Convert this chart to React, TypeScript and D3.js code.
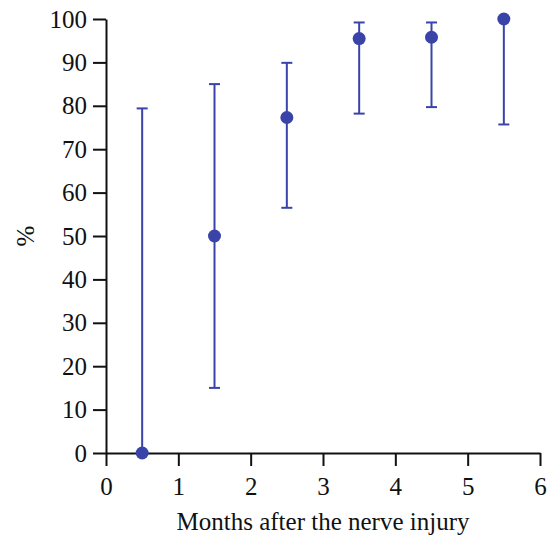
import React, { useEffect, useRef } from 'react';
import * as d3 from 'd3';

// data
const months = [0.5, 1.5, 2.5, 3.5, 4.5, 5.5];
const percent = [0, 50, 77.3, 95.5, 95.8, 100];
const lowerCI = [0, 15, 56.5, 78.2, 79.7, 75.7];
const upperCI = [79.4, 85, 89.9, 99.2, 99.2, 100];
const xTicks = [0, 1, 2, 3, 4, 5, 6];
const yTicks = [0, 10, 20, 30, 40, 50, 60, 70, 80, 90, 100];

const blue = '#3a44a8';
const font = '"Liberation Serif", "Times New Roman", serif';

export default function App() {
    const ref = useRef<SVGSVGElement>(null);

    useEffect(() => {
        const width = 552, height = 536;
        const margin = { top: 19, right: 12, bottom: 83, left: 106 };
        const w = width - margin.left - margin.right;
        const h = height - margin.top - margin.bottom;

        const root = d3.select(ref.current);
        root.selectAll('*').remove();
        const svg = root.append('g')
            .attr('transform', 'translate(' + margin.left + ',' + margin.top + ')');

        const x = d3.scaleLinear().domain([0, 6]).range([0, w]);
        const y = d3.scaleLinear().domain([0, 100]).range([h, 0]);

        // x axis
        const xAxis = svg.append('g')
            .attr('transform', 'translate(0,' + h + ')')
            .call(d3.axisBottom(x).tickValues(xTicks).tickFormat(d3.format('d'))
                .tickSize(13).tickPadding(11).tickSizeOuter(0));
        // y axis
        const yAxis = svg.append('g')
            .call(d3.axisLeft(y).tickValues(yTicks).tickFormat(d3.format('d'))
                .tickSize(13).tickPadding(6).tickSizeOuter(0));

        [xAxis, yAxis].forEach(function (a) {
            a.select('.domain').attr('stroke', '#111').attr('stroke-width', 2);
            a.selectAll('.tick line').attr('stroke', '#111').attr('stroke-width', 2);
            a.selectAll('text')
                .attr('fill', '#111')
                .style('font-family', font)
                .style('font-size', '25px');
        });

        // axis titles
        svg.append('text')
            .attr('x', w / 2)
            .attr('y', h + 77)
            .attr('text-anchor', 'middle')
            .style('font-family', font)
            .style('font-size', '25px')
            .attr('fill', '#111')
            .text('Months after the nerve injury');
        svg.append('text')
            .attr('transform', 'translate(' + (-72) + ',' + (h / 2) + ') rotate(-90)')
            .attr('text-anchor', 'middle')
            .style('font-family', font)
            .style('font-size', '25px')
            .attr('fill', '#111')
            .text('%');

        const rows = months.map(function (m, i) {
            return { m: m, v: percent[i], lo: lowerCI[i], hi: upperCI[i] };
        });
        const cap = 5.5;

        // error bars
        const bars = svg.selectAll('.err').data(rows).enter().append('g')
            .attr('stroke', blue).attr('stroke-width', 2);
        bars.append('line')
            .attr('x1', function (d) { return x(d.m); })
            .attr('x2', function (d) { return x(d.m); })
            .attr('y1', function (d) { return y(d.lo); })
            .attr('y2', function (d) { return y(d.hi); });
        bars.append('line')
            .attr('x1', function (d) { return x(d.m) - cap; })
            .attr('x2', function (d) { return x(d.m) + cap; })
            .attr('y1', function (d) { return y(d.hi); })
            .attr('y2', function (d) { return y(d.hi); });
        bars.append('line')
            .attr('x1', function (d) { return x(d.m) - cap; })
            .attr('x2', function (d) { return x(d.m) + cap; })
            .attr('y1', function (d) { return y(d.lo); })
            .attr('y2', function (d) { return y(d.lo); });

        // points
        svg.selectAll('.pt').data(rows).enter().append('circle')
            .attr('cx', function (d) { return x(d.m); })
            .attr('cy', function (d) { return y(d.v); })
            .attr('r', 6.5)
            .attr('fill', blue);
    }, []);

    return (
        <svg ref={ref} width={552} height={536}
            style={{ position: 'absolute', left: 0, top: 0, background: '#fff' }} />
    );
}
